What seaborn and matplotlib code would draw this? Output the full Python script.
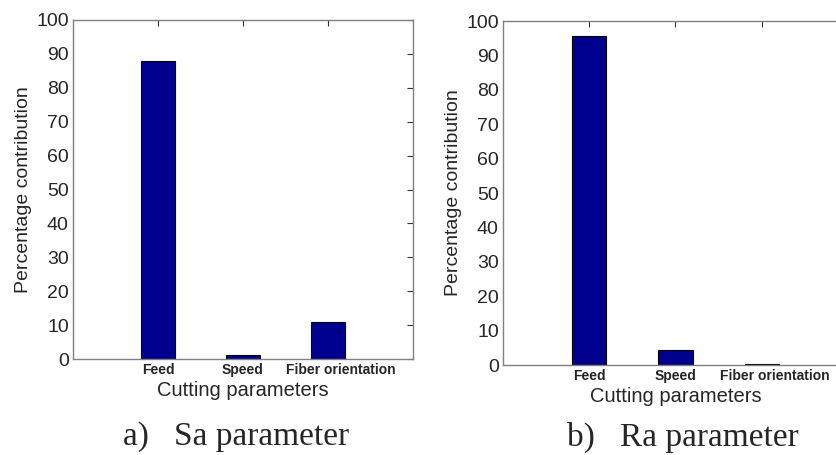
import matplotlib
matplotlib.use("Agg")
import matplotlib.pyplot as plt
import matplotlib.transforms as mtransforms
import seaborn as sns
import pandas as pd

categories = ["Feed", "Speed", "Fiber orientation"]
sa_values = [88.0, 1.2, 11.0]
ra_values = [95.7, 4.3, 0.4]
y_ticks = [0, 10, 20, 30, 40, 50, 60, 70, 80, 90, 100]
panel_titles = ["a)   Sa parameter", "b)   Ra parameter"]

sns.set_style("white")
plt.rcParams['font.family'] = ['Liberation Sans', 'DejaVu Sans']

fig = plt.figure(figsize=(8.37, 4.55), dpi=100)
ax1 = fig.add_axes([73/837, 1-359/455, 340/837, 339/455])
ax2 = fig.add_axes([503/837, 1-365/455, 345/837, 344/455])

bar_color = "#00008f"
for ax, vals in [(ax1, sa_values), (ax2, ra_values)]:
    df = pd.DataFrame({"param": categories, "pct": vals})
    sns.barplot(data=df, x="param", y="pct", ax=ax, color=bar_color,
                width=0.4, edgecolor="black", linewidth=0.8, saturation=1)
    ax.set_xlim(-1, 3)
    ax.set_ylim(0, 100)
    ax.set_yticks(y_ticks)
    ax.set_yticklabels([str(t) for t in y_ticks], fontsize=14)
    ax.set_xticks(range(len(categories)))
    ax.set_xticklabels(categories, fontsize=10, fontweight="bold")
    ax.set_xlabel("Cutting parameters", fontsize=14.5, labelpad=3)
    ax.set_ylabel("Percentage contribution", fontsize=14, labelpad=3)
    ax.tick_params(direction="in", length=4, width=0.8, color="#333333",
                   top=True, right=True, pad=3)
    ax.tick_params(axis="x", pad=3)
    for s in ax.spines.values():
        s.set_color("#808080")
        s.set_linewidth(1.0)
    # last label sits slightly right of its tick, as in the reference
    lbl = ax.get_xticklabels()[-1]
    lbl.set_transform(lbl.get_transform() +
                      mtransforms.ScaledTranslation(13/100, 0, fig.dpi_scale_trans))

fig.text(236/837, 1-445/455, panel_titles[0], fontsize=24,
         family=["Liberation Serif", "DejaVu Serif"], ha="center", va="baseline")
fig.text(683/837, 1-446/455, panel_titles[1], fontsize=24,
         family=["Liberation Serif", "DejaVu Serif"], ha="center", va="baseline")

fig.savefig("out.png", dpi=100)
